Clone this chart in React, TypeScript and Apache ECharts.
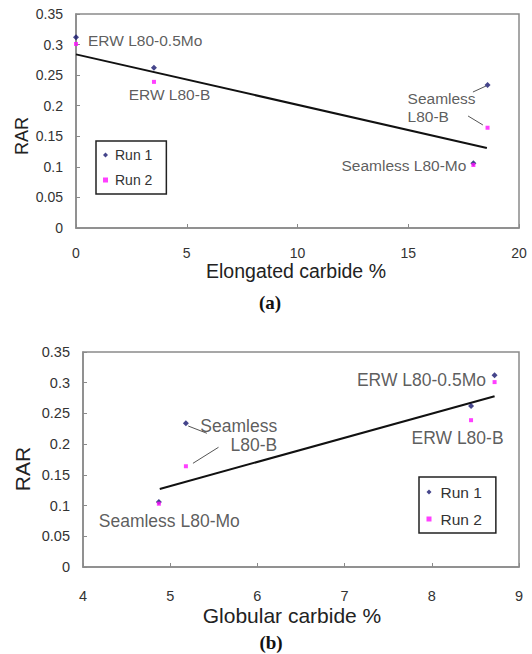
import React, { useEffect, useRef } from "react";
import * as echarts from "echarts";

// ---- data ----
const samples = ["ERW L80-0.5Mo", "ERW L80-B", "Seamless L80-B", "Seamless L80-Mo"];
const elongatedCarbide = [0, 3.52, 18.58, 17.94];
const globularCarbide = [8.72, 8.45, 5.18, 4.87];
const rarRun1 = [0.312, 0.262, 0.234, 0.106];
const rarRun2 = [0.301, 0.239, 0.164, 0.103];
const trendA = [[0, 0.284], [18.55, 0.131]];
const trendB = [[4.88, 0.127], [8.72, 0.278]];
const leadersA = [
  [[17.92, 0.2224], [18.51, 0.2322]],
  [[17.7, 0.1832], [18.37, 0.1685]],
];
const leadersB = [
  [[5.207, 0.2295], [5.421, 0.2177]],
  [[5.261, 0.1688], [5.554, 0.1949]],
];
const xRangeA = [0, 20, 5];
const xRangeB = [4, 9, 1];
const yRange = [0, 0.35, 0.05];
const runNames = ["Run 1", "Run 2"];

// annotation placement (style: offsets in px relative to a point)
const annotA = [
  { sample: 0, run: 0, text: "ERW L80-0.5Mo", offset: [12, 3], align: "left" },
  { sample: 1, run: 1, text: "ERW L80-B", offset: [15.5, 13], align: "center" },
  { sample: 2, run: 0, text: "Seamless\nL80-B", offset: [-80, 23], align: "left" },
  { sample: 3, run: 0, text: "Seamless L80-Mo", offset: [-7, 2], align: "right" },
];
const annotB = [
  { sample: 0, run: 0, text: "ERW L80-0.5Mo", offset: [-8.6, 4.7], align: "right" },
  { sample: 1, run: 1, text: "ERW L80-B", offset: [-13.5, 18], align: "center" },
  { sample: 2, run: 0, text: "Seamless\nL80-B", offset: [91.3, 12.7], align: "right" },
  { sample: 3, run: 0, text: "Seamless L80-Mo", offset: [10.4, 18.8], align: "center" },
];

const FONT = "'Liberation Sans', Arial, sans-serif";
const AXIS_GRAY = "#8a8a8a";
const TEXT = "#333333";
const RUN1_COLOR = "#16166e";
const RUN2_COLOR = "#ff10ff";

function makeAxes(idx: number, xr: number[], fs: number, xMargin: number) {
  const common = {
    gridIndex: idx,
    axisLine: { show: true, lineStyle: { color: AXIS_GRAY, width: 1.5 } },
    axisTick: { show: true, inside: true, length: 4, lineStyle: { color: AXIS_GRAY } },
    splitLine: { show: false },
  };
  const xAxis = {
    ...common,
    type: "value",
    min: xr[0],
    max: xr[1],
    interval: xr[2],
    axisLabel: { fontSize: fs, color: TEXT, fontFamily: FONT, margin: xMargin },
  };
  const yAxis = {
    ...common,
    type: "value",
    min: yRange[0],
    max: yRange[1],
    interval: yRange[2],
    axisLabel: { fontSize: fs, color: TEXT, fontFamily: FONT, margin: 13 },
  };
  return { xAxis, yAxis };
}

function makeSeries(idx: number, xs: number[], trend: number[][], leaders: number[][][], annots: any[], fs: number, lh: number) {
  const runs = [rarRun1, rarRun2];
  const out: any[] = [];
  out.push({
    type: "scatter",
    name: runNames[0],
    xAxisIndex: idx,
    yAxisIndex: idx,
    symbol: "diamond",
    symbolSize: 6,
    itemStyle: { color: RUN1_COLOR },
    data: xs.map((x, i) => [x, rarRun1[i]]),
    z: 5,
  });
  out.push({
    type: "scatter",
    name: runNames[1],
    xAxisIndex: idx,
    yAxisIndex: idx,
    symbol: "rect",
    symbolSize: 4,
    itemStyle: { color: RUN2_COLOR },
    data: xs.map((x, i) => [x, rarRun2[i]]),
    z: 5,
  });
  out.push({
    type: "line",
    name: "trend" + idx,
    xAxisIndex: idx,
    yAxisIndex: idx,
    symbol: "none",
    silent: true,
    lineStyle: { color: "#111", width: 2 },
    data: trend,
    z: 3,
  });
  leaders.forEach((l, k) => {
    out.push({
      type: "line",
      name: "leader" + idx + "_" + k,
      xAxisIndex: idx,
      yAxisIndex: idx,
      symbol: "none",
      silent: true,
      lineStyle: { color: "#555", width: 1 },
      data: l,
      z: 3,
    });
  });
  out.push({
    type: "scatter",
    name: "annot" + idx,
    xAxisIndex: idx,
    yAxisIndex: idx,
    symbolSize: 1,
    silent: true,
    itemStyle: { color: "rgba(0,0,0,0)" },
    z: 6,
    data: annots.map((a) => ({
      value: [xs[a.sample], runs[a.run][a.sample]],
      label: {
        show: true,
        formatter: a.text,
        position: "inside",
        offset: a.offset,
        align: a.align,
        verticalAlign: "middle",
        fontSize: fs,
        lineHeight: lh,
        color: TEXT,
        fontFamily: FONT,
      },
    })),
  });
  return out;
}

export default function App() {
  const ref = useRef<HTMLDivElement>(null);
  useEffect(() => {
    if (!ref.current) return;
    const chart = echarts.init(ref.current, undefined, { renderer: "svg" });
    const a = makeAxes(0, xRangeA, 14, 18);
    const b = makeAxes(1, xRangeB, 14.5, 21);
    const legendBase = {
      orient: "vertical",
      data: [
        { name: runNames[0], icon: "diamond", itemStyle: { color: RUN1_COLOR } },
        { name: runNames[1], icon: "rect", itemStyle: { color: RUN2_COLOR } },
      ],
      borderColor: "#222",
      borderWidth: 1.5,
      backgroundColor: "#fff",
      selectedMode: false,
    };
    chart.setOption({
      animation: false,
      backgroundColor: "#ffffff",
      grid: [
        { left: 76, top: 14, width: 443, height: 214, show: true, borderColor: AXIS_GRAY, borderWidth: 1.5, backgroundColor: "transparent" },
        { left: 83, top: 352, width: 436, height: 215, show: true, borderColor: AXIS_GRAY, borderWidth: 1.5, backgroundColor: "transparent" },
      ],
      xAxis: [a.xAxis, b.xAxis],
      yAxis: [a.yAxis, b.yAxis],
      legend: [
        {
          ...legendBase,
          left: 96,
          top: 141,
          padding: [7, 14, 7, 7],
          itemWidth: 5,
          itemHeight: 5,
          itemGap: 11,
          textStyle: { fontSize: 14, color: TEXT, fontFamily: FONT, padding: [0, 0, 0, 2] },
        },
        {
          ...legendBase,
          left: 419,
          top: 477,
          padding: [7, 14, 6, 7.5],
          itemWidth: 5,
          itemHeight: 5,
          itemGap: 11,
          textStyle: { fontSize: 15.5, color: TEXT, fontFamily: FONT, padding: [0, 0, 0, 4] },
        },
      ],
      series: [
        ...makeSeries(0, elongatedCarbide, trendA, leadersA, annotA, 15.5, 18),
        ...makeSeries(1, globularCarbide, trendB, leadersB, annotB, 17.5, 19),
      ],
      graphic: [
        { type: "text", x: 22, y: 136, rotation: Math.PI / 2, style: { text: "RAR", fontSize: 18, fontFamily: FONT, fill: "#222", align: "center", verticalAlign: "middle" } },
        { type: "text", x: 296, y: 271, style: { text: "Elongated carbide %", fontSize: 19.5, fontFamily: FONT, fill: "#222", align: "center", verticalAlign: "middle" } },
        { type: "text", x: 270, y: 302, style: { text: "(a)", fontSize: 19, fontWeight: "bold", fontFamily: "'Liberation Serif', 'Times New Roman', serif", fill: "#111", align: "center", verticalAlign: "middle" } },
        { type: "text", x: 22, y: 469, rotation: Math.PI / 2, style: { text: "RAR", fontSize: 21, fontFamily: FONT, fill: "#222", align: "center", verticalAlign: "middle" } },
        { type: "text", x: 292, y: 615, style: { text: "Globular carbide %", fontSize: 21, fontFamily: FONT, fill: "#222", align: "center", verticalAlign: "middle" } },
        { type: "text", x: 271, y: 642, style: { text: "(b)", fontSize: 19, fontWeight: "bold", fontFamily: "'Liberation Serif', 'Times New Roman', serif", fill: "#111", align: "center", verticalAlign: "middle" } },
      ],
    });
    return () => chart.dispose();
  }, []);
  return (
    <div
      ref={ref}
      style={{ position: "fixed", left: 0, top: 0, width: 532, height: 654, background: "#fff" }}
    />
  );
}
